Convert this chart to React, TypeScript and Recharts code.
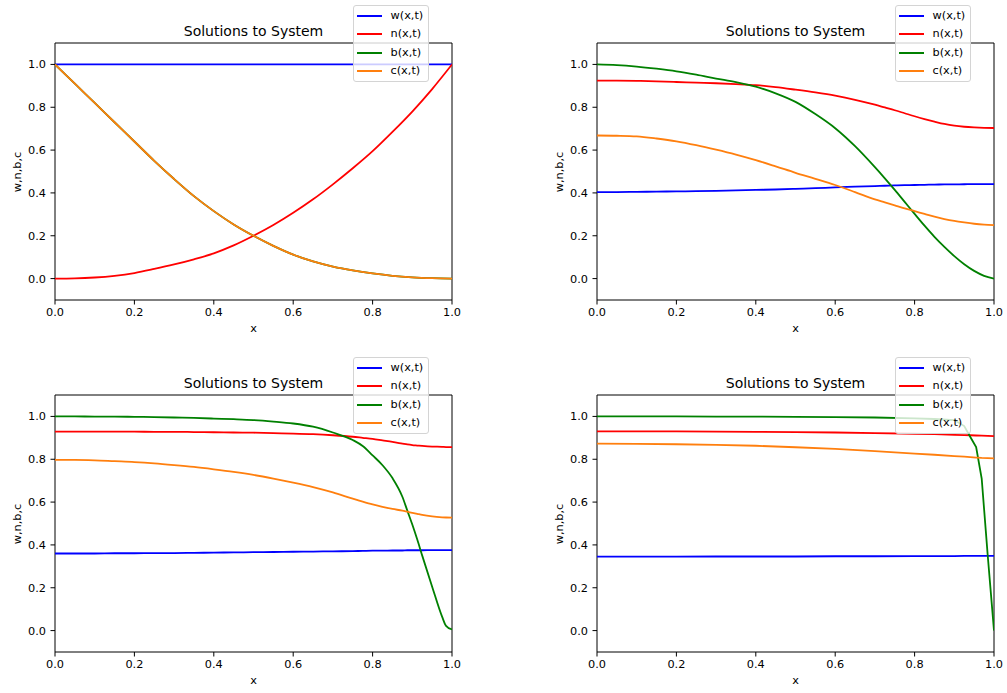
import React from 'react';
import { LineChart, Line, XAxis, YAxis, Legend, ReferenceArea } from 'recharts';

const FONT = '"DejaVu Sans", "Liberation Sans", sans-serif';
const SERIES_KEYS = ['w', 'n', 'b', 'c'];
const SERIES_LABELS = ['w(x,t)', 'n(x,t)', 'b(x,t)', 'c(x,t)'];
const SERIES_COLORS = ['#0000ff', '#ff0000', '#008000', '#ff7f0e'];
const X_TICKS = [0, 0.2, 0.4, 0.6, 0.8, 1.0];
const Y_TICKS = [0, 0.2, 0.4, 0.6, 0.8, 1.0];
const TITLE = 'Solutions to System';
const X_LABEL = 'x';
const Y_LABEL = 'w,n,b,c';

// Panel 1 (top-left)
const TL_X = [0, 0.05, 0.1, 0.15, 0.2, 0.25, 0.3, 0.35, 0.4, 0.45, 0.5, 0.55, 0.6, 0.65, 0.7, 0.75, 0.8, 0.85, 0.9, 0.95, 1.0];
const TL_W = [1, 1, 1, 1, 1, 1, 1, 1, 1, 1, 1, 1, 1, 1, 1, 1, 1, 1, 1, 1, 1];
const TL_N = [0, 0.001, 0.005, 0.013, 0.026, 0.045, 0.066, 0.09, 0.118, 0.155, 0.2, 0.25, 0.307, 0.37, 0.44, 0.515, 0.595, 0.685, 0.78, 0.885, 1.0];
const TL_B = [1.0, 0.91, 0.82, 0.73, 0.64, 0.55, 0.465, 0.385, 0.315, 0.253, 0.2, 0.153, 0.112, 0.08, 0.056, 0.038, 0.024, 0.013, 0.006, 0.002, 0.0];
const TL_C = [1.0, 0.91, 0.82, 0.73, 0.64, 0.55, 0.465, 0.385, 0.315, 0.253, 0.2, 0.153, 0.112, 0.08, 0.056, 0.038, 0.024, 0.013, 0.006, 0.002, 0.0];

// Panel 2 (top-right)
const TR_X = [0, 0.05, 0.1, 0.15, 0.2, 0.25, 0.3, 0.35, 0.4, 0.45, 0.5, 0.55, 0.6, 0.65, 0.7, 0.725, 0.75, 0.775, 0.8, 0.825, 0.85, 0.875, 0.9, 0.925, 0.95, 0.975, 1.0];
const TR_W = [0.404, 0.404, 0.405, 0.406, 0.407, 0.408, 0.41, 0.412, 0.414, 0.416, 0.419, 0.422, 0.426, 0.429, 0.432, 0.4335, 0.435, 0.436, 0.437, 0.438, 0.439, 0.4395, 0.44, 0.4405, 0.441, 0.441, 0.441];
const TR_N = [0.924, 0.924, 0.923, 0.921, 0.918, 0.915, 0.912, 0.908, 0.903, 0.894, 0.882, 0.869, 0.854, 0.835, 0.812, 0.799, 0.786, 0.772, 0.758, 0.745, 0.733, 0.722, 0.714, 0.709, 0.706, 0.704, 0.703];
const TR_B = [1.0, 0.997, 0.99, 0.98, 0.968, 0.952, 0.934, 0.917, 0.896, 0.865, 0.825, 0.768, 0.702, 0.618, 0.52, 0.468, 0.414, 0.358, 0.302, 0.247, 0.195, 0.148, 0.105, 0.067, 0.036, 0.013, 0.0];
const TR_C = [0.668, 0.667, 0.664, 0.654, 0.641, 0.623, 0.602, 0.579, 0.553, 0.524, 0.494, 0.466, 0.437, 0.404, 0.37, 0.356, 0.342, 0.328, 0.315, 0.302, 0.289, 0.278, 0.269, 0.262, 0.256, 0.252, 0.25];

// Panel 3 (bottom-left)
const BL_X = [0, 0.05, 0.1, 0.15, 0.2, 0.25, 0.3, 0.35, 0.4, 0.45, 0.5, 0.55, 0.6, 0.65, 0.7, 0.75, 0.775, 0.8, 0.825, 0.85, 0.875, 0.8875, 0.9, 0.9125, 0.925, 0.95, 0.975, 0.985, 1.0];
const BL_W = [0.36, 0.36, 0.36, 0.361, 0.361, 0.362, 0.362, 0.363, 0.364, 0.365, 0.366, 0.367, 0.368, 0.369, 0.37, 0.371, 0.372, 0.373, 0.373, 0.374, 0.374, 0.375, 0.375, 0.375, 0.375, 0.376, 0.376, 0.376, 0.376];
const BL_N = [0.929, 0.929, 0.929, 0.929, 0.929, 0.928, 0.928, 0.927, 0.926, 0.925, 0.924, 0.922, 0.92, 0.917, 0.912, 0.905, 0.9, 0.895, 0.888, 0.881, 0.873, 0.869, 0.866, 0.864, 0.862, 0.859, 0.858, 0.857, 0.857];
const BL_B = [1.0, 1.0, 0.999, 0.999, 0.998, 0.997, 0.995, 0.993, 0.99, 0.987, 0.983, 0.976, 0.967, 0.952, 0.925, 0.89, 0.862, 0.818, 0.772, 0.712, 0.625, 0.56, 0.495, 0.425, 0.35, 0.205, 0.065, 0.022, 0.005];
const BL_C = [0.797, 0.797, 0.795, 0.791, 0.787, 0.781, 0.773, 0.764, 0.753, 0.741, 0.727, 0.71, 0.691, 0.67, 0.645, 0.616, 0.602, 0.589, 0.578, 0.568, 0.56, 0.555, 0.55, 0.545, 0.54, 0.533, 0.529, 0.528, 0.527];

// Panel 4 (bottom-right)
const BR_X = [0, 0.1, 0.2, 0.3, 0.4, 0.5, 0.6, 0.7, 0.8, 0.85, 0.9, 0.925, 0.94, 0.955, 0.969, 0.984, 1.0];
const BR_W = [0.345, 0.345, 0.345, 0.346, 0.346, 0.346, 0.347, 0.347, 0.348, 0.348, 0.348, 0.349, 0.349, 0.349, 0.349, 0.349, 0.349];
const BR_N = [0.93, 0.93, 0.93, 0.929, 0.928, 0.927, 0.925, 0.922, 0.919, 0.917, 0.914, 0.913, 0.912, 0.911, 0.91, 0.909, 0.908];
const BR_B = [1.0, 1.0, 1.0, 0.999, 0.999, 0.998, 0.997, 0.995, 0.991, 0.988, 0.983, 0.955, 0.905, 0.857, 0.71, 0.355, 0.0];
const BR_C = [0.873, 0.872, 0.87, 0.867, 0.863, 0.856, 0.848, 0.838, 0.826, 0.821, 0.815, 0.812, 0.81, 0.808, 0.806, 0.805, 0.804];

function build(xs: number[], w: number[], n: number[], b: number[], c: number[]) {
  return xs.map((x, i) => ({ x, w: w[i], n: n[i], b: b[i], c: c[i] }));
}

const PANELS = [
  { left: 0, top: 0, curve: 'monotone', data: build(TL_X, TL_W, TL_N, TL_B, TL_C) },
  { left: 542, top: 0, curve: 'monotone', data: build(TR_X, TR_W, TR_N, TR_B, TR_C) },
  { left: 0, top: 352, curve: 'monotone', data: build(BL_X, BL_W, BL_N, BL_B, BL_C) },
  { left: 542, top: 352, curve: 'linear', data: build(BR_X, BR_W, BR_N, BR_B, BR_C) },
];

const PANEL_W = 465;
const PANEL_H = 340;
const Y_AXIS_W = 50;
const X_AXIS_H = 35;
const MARGIN = { top: 43, right: 13, bottom: 5, left: 5 };
const PLOT_LEFT = MARGIN.left + Y_AXIS_W; // 55
const PLOT_W = PANEL_W - PLOT_LEFT - MARGIN.right; // 397
const PLOT_TOP = MARGIN.top;
const PLOT_H = PANEL_H - MARGIN.top - MARGIN.bottom - X_AXIS_H; // 257

const tickStyle = { fill: '#000', fontSize: 11.3, fontFamily: FONT };
const fmt = (v: number) => v.toFixed(1);

function LegendBox() {
  const rows = [9.7, 28.2, 46.7, 65.2];
  return (
    <div
      style={{
        position: 'relative',
        width: 76,
        height: 77,
        boxSizing: 'border-box',
        background: 'rgba(255,255,255,0.8)',
        border: '1px solid #d4d4d4',
        borderRadius: 3,
        fontFamily: FONT,
        fontSize: 11.3,
        color: '#000',
      }}
    >
      {SERIES_LABELS.map((lab, i) => (
        <div
          key={lab}
          style={{
            position: 'absolute',
            left: 0,
            top: rows[i] - 9,
            height: 18,
            width: 76,
          }}
        >
          <div
            style={{
              position: 'absolute',
              left: 2.7,
              top: 8,
              width: 25.7,
              height: 2,
              background: SERIES_COLORS[i],
            }}
          />
          <div
            style={{
              position: 'absolute',
              left: 36.5,
              top: 0,
              height: 18,
              lineHeight: '18px',
              whiteSpace: 'nowrap',
            }}
          >
            {lab}
          </div>
        </div>
      ))}
    </div>
  );
}

function Panel({ left, top, data, curve }: { left: number; top: number; data: any[]; curve: any }) {
  return (
    <div style={{ position: 'absolute', left, top, width: PANEL_W, height: PANEL_H }}>
      <LineChart width={PANEL_W} height={PANEL_H} data={data} margin={MARGIN}>
        <XAxis
          dataKey="x"
          type="number"
          domain={[0, 1]}
          ticks={X_TICKS}
          interval={0}
          tickFormatter={fmt}
          tick={tickStyle}
          tickSize={4.5}
          tickMargin={3}
          tickLine={{ stroke: '#000', strokeWidth: 1 }}
          axisLine={false}
          height={X_AXIS_H}
          allowDataOverflow
        />
        <YAxis
          type="number"
          domain={[-0.1, 1.1]}
          ticks={Y_TICKS}
          interval={0}
          tickFormatter={fmt}
          tick={tickStyle}
          tickSize={4.5}
          tickMargin={4.5}
          tickLine={{ stroke: '#000', strokeWidth: 1 }}
          axisLine={false}
          width={Y_AXIS_W}
          allowDataOverflow
        />
        {SERIES_KEYS.map((k, i) => (
          <Line
            key={k}
            dataKey={k}
            name={SERIES_LABELS[i]}
            type={curve}
            stroke={SERIES_COLORS[i]}
            strokeWidth={1.8}
            dot={false}
            activeDot={false}
            isAnimationActive={false}
          />
        ))}
        <ReferenceArea
          x1={0}
          x2={1}
          y1={-0.1}
          y2={1.1}
          fill="none"
          fillOpacity={0}
          stroke="#000"
          strokeWidth={1}
          ifOverflow="visible"
        />
        <Legend
          layout="vertical"
          align="center"
          verticalAlign="middle"
          content={() => <LegendBox />}
          wrapperStyle={{ left: 353, top: 5, width: 76, height: 77 }}
        />
      </LineChart>
      <div
        style={{
          position: 'absolute',
          left: PLOT_LEFT + PLOT_W / 2,
          top: 31,
          transform: 'translate(-50%, -50%)',
          fontFamily: FONT,
          fontSize: 14,
          lineHeight: 1,
          whiteSpace: 'nowrap',
          color: '#000',
        }}
      >
        {TITLE}
      </div>
      <div
        style={{
          position: 'absolute',
          left: PLOT_LEFT + PLOT_W / 2,
          top: 329,
          transform: 'translate(-50%, -50%)',
          fontFamily: FONT,
          fontSize: 11.3,
          lineHeight: 1,
          whiteSpace: 'nowrap',
          color: '#000',
        }}
      >
        {X_LABEL}
      </div>
      <div
        style={{
          position: 'absolute',
          left: 17.5,
          top: PLOT_TOP + PLOT_H / 2,
          transform: 'translate(-50%, -50%) rotate(-90deg)',
          fontFamily: FONT,
          fontSize: 11.3,
          lineHeight: 1,
          whiteSpace: 'nowrap',
          color: '#000',
        }}
      >
        {Y_LABEL}
      </div>
    </div>
  );
}

export default function App() {
  return (
    <div
      style={{
        position: 'absolute',
        left: 0,
        top: 0,
        width: 1007,
        height: 693,
        overflow: 'hidden',
        background: '#fff',
      }}
    >
      {PANELS.map((p, i) => (
        <Panel key={i} left={p.left} top={p.top} data={p.data} curve={p.curve} />
      ))}
    </div>
  );
}
